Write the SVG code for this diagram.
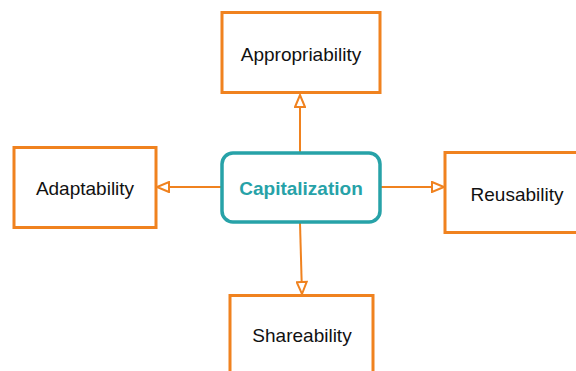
<svg xmlns="http://www.w3.org/2000/svg" width="576" height="371" viewBox="0 0 576 371">
<style>
.box{fill:#fff;stroke:#F0821F;stroke-width:3}
.hub{fill:#fff;stroke:#27A2A8;stroke-width:3.5}
.lbl{font-family:"Liberation Sans",Arial,sans-serif;font-size:19px;fill:#111;text-anchor:middle}
.hubl{font-family:"Liberation Sans",Arial,sans-serif;font-size:19px;font-weight:bold;fill:#27A2A8;text-anchor:middle}
.conn{stroke:#F0821F;stroke-width:2;fill:none;marker-end:url(#arr)}
</style>
<defs>
<marker id="arr" markerUnits="userSpaceOnUse" markerWidth="16" markerHeight="12" refX="12" refY="5" orient="auto" viewBox="-1 -1 15 12">
<path d="M0,0 L12,5 L0,10 Z" fill="#fff" stroke="#F0821F" stroke-width="2"/>
</marker>
</defs>
<rect width="576" height="371" fill="#fff"/>
<g id="connectors">
<line class="conn" x1="300" y1="152" x2="300" y2="95"/>
<line class="conn" x1="222" y1="187" x2="157" y2="187"/>
<line class="conn" x1="380" y1="187" x2="444" y2="187"/>
<line class="conn" x1="300" y1="223" x2="302" y2="294"/>
</g>
<g id="appropriability">
<rect class="box" x="222" y="12.5" width="158" height="80"/>
<text class="lbl" x="301" y="61">Appropriability</text>
</g>
<g id="capitalization">
<rect class="hub" x="222" y="153" width="158" height="69" rx="11"/>
<text class="hubl" x="301" y="195">Capitalization</text>
</g>
<g id="adaptability">
<rect class="box" x="14" y="147.5" width="142" height="80"/>
<text class="lbl" x="85" y="195">Adaptability</text>
</g>
<g id="reusability">
<rect class="box" x="445" y="152.5" width="145" height="80"/>
<text class="lbl" x="517" y="201">Reusability</text>
</g>
<g id="shareability">
<rect class="box" x="230" y="295.5" width="143" height="80"/>
<text class="lbl" x="302" y="342">Shareability</text>
</g>
</svg>
